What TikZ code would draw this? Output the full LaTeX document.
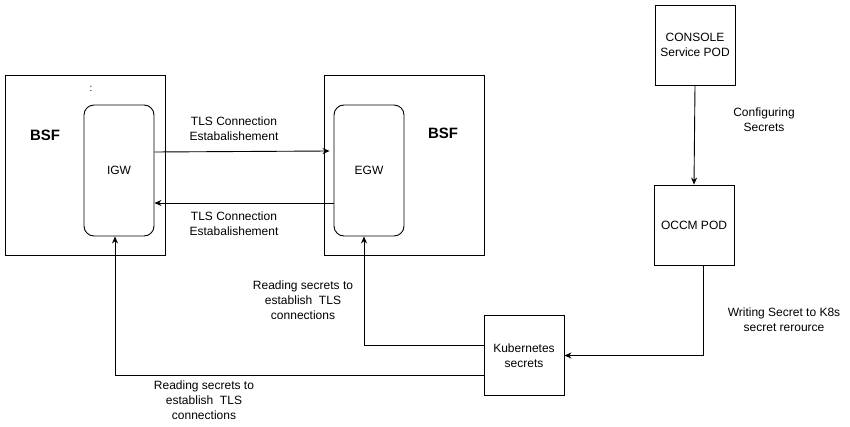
\documentclass[tikz,border=0pt]{standalone}
\usepackage{fontspec}
\setmainfont{Liberation Sans}
\usetikzlibrary{arrows.meta}
\tikzset{
    outer-box/.style = {draw, line width=0.9pt, rectangle, minimum width=160pt, minimum height=180pt},
    gw-box/.style = {draw, line width=0.9pt, rectangle, rounded corners=10pt, minimum width=70pt, minimum height=131pt, font=\fontsize{12}{15}\selectfont},
    pod-box/.style = {draw, line width=0.9pt, rectangle, minimum width=80pt, minimum height=80pt, align=center, font=\fontsize{12}{15}\selectfont},
    box-title/.style = {font=\fontsize{15}{18}\selectfont\bfseries},
    flow-label/.style = {align=center, font=\fontsize{12}{15}\selectfont},
    flow/.style = {draw, line width=0.9pt, -{Stealth[length=7pt,width=6pt]}},
}

\begin{document}
\begin{tikzpicture}[x=1pt,y=-1pt]
\useasboundingbox (0,0) rectangle (850,427);
% left side
\node[outer-box] (bsf-left) at (85,165) {};
\node[box-title] (bsf-left-title) at (45,135) {BSF};
\node[font=\fontsize{10}{10}\selectfont] (bsf-left-mark) at (91,89) {:};
\node[gw-box] (igw) at (119,170.5) {IGW};
% right side
\node[outer-box] (bsf-right) at (404,165) {};
\node[box-title] (bsf-right-title) at (443,133) {BSF};
\node[gw-box] (egw) at (369,170.5) {EGW};
% pods
\node[pod-box] (console) at (695,45) {CONSOLE\\Service POD};
\node[pod-box] (occm) at (694,225) {OCCM POD};
\node[pod-box] (k8s) at (524,355.5) {Kubernetes\\secrets};
% connections
\draw[flow] ([yshift=18.5pt]igw.east) -- ([yshift=19.5pt,xshift=-4pt]egw.west);
\draw[flow] ([yshift=-32.5pt]egw.west) -- ([yshift=-32.5pt]igw.east);
\draw[flow] (console.south) -- (occm.north);
\draw[flow] ([xshift=9pt]occm.south) |- (k8s.east);
\draw[flow] ([yshift=10.5pt]k8s.west) -| ([xshift=-5pt]egw.south);
\draw[flow] ([yshift=-19.5pt]k8s.west) -| ([xshift=-4pt]igw.south);
% labels
\node[flow-label] (tls-top) at (234,129) {TLS Connection\\Estabalishement};
\node[flow-label] (tls-bottom) at (234,224) {TLS Connection\\Estabalishement};
\node[flow-label] (config) at (764,120) {Configuring\\Secrets};
\node[flow-label] (writing) at (784,320) {Writing Secret to K8s\\secret rerource};
\node[flow-label] (read-egw) at (303,300) {Reading secrets to\\establish\ \ TLS\\connections};
\node[flow-label] (read-igw) at (204,400) {Reading secrets to\\establish\ \ TLS\\connections};
\end{tikzpicture}
\end{document}
